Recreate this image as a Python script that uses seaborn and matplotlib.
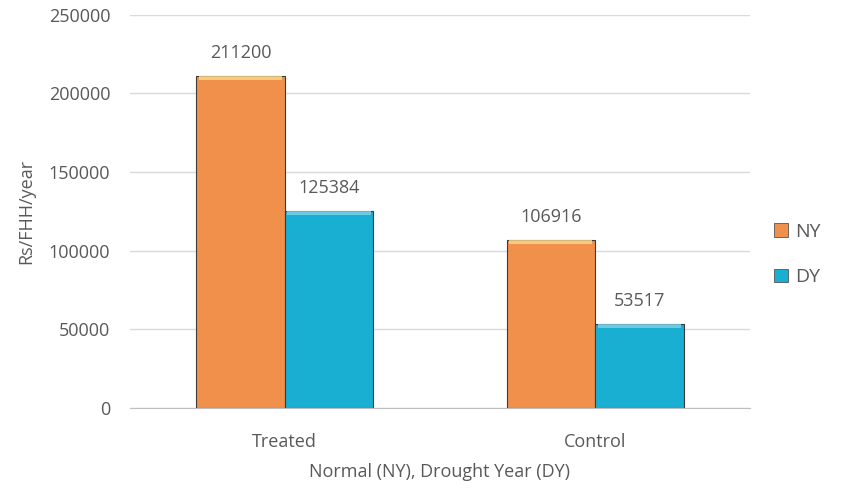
import pandas as pd
import matplotlib
matplotlib.use('Agg')
import matplotlib.pyplot as plt
import seaborn as sns

# Data
groups = ['Treated', 'Control']
seasons = ['NY', 'DY']
ny_values = [211200, 106916]
dy_values = [125384, 53517]

df = pd.DataFrame({
    'Group': groups * 2,
    'Season': ['NY'] * 2 + ['DY'] * 2,
    'Value': ny_values + dy_values,
})

sns.set_style('white')
plt.rcParams['font.family'] = ['Open Sans', 'DejaVu Sans']
text_col = '#595959'

fig = plt.figure(figsize=(8.42, 4.92), dpi=100)
ax = fig.add_axes([0.154, 0.171, 0.737, 0.799])

palette = {'NY': '#F0904A', 'DY': '#19AFD2'}
sns.barplot(data=df, x='Group', y='Value', hue='Season', hue_order=seasons,
            palette=palette, width=0.57, saturation=1, edgecolor='#3a3a3a',
            linewidth=0.8, ax=ax, legend=False)

# bevel highlight on top of each bar
for patch in ax.patches:
    x, w, h = patch.get_x(), patch.get_width(), patch.get_height()
    face = patch.get_facecolor()
    light = '#FCD98A' if face[0] > 0.8 else '#7FD3E8'
    ax.fill_between([x + w * 0.03, x + w * 0.97], h - 2500, h - 300,
                    color=light, alpha=0.8, zorder=3, linewidth=0)

for cont in ax.containers:
    ax.bar_label(cont, labels=[str(int(v)) for v in cont.datavalues],
                 padding=10, fontsize=13, color=text_col)

ax.set_ylim(0, 250000)
ax.set_yticks(range(0, 250001, 50000))
ax.set_xlim(-0.5, 1.5)
ax.yaxis.grid(True, color='#D9D9D9', linewidth=1)
ax.set_axisbelow(True)
for s in ['left', 'right', 'top']:
    ax.spines[s].set_visible(False)
ax.spines['bottom'].set_color('#BFBFBF')
ax.tick_params(axis='y', labelsize=13, colors=text_col, length=0, pad=14)
ax.tick_params(axis='x', labelsize=13, colors=text_col, length=0, pad=18)

ax.set_xlabel('Normal (NY), Drought Year (DY)', fontsize=13, color=text_col, labelpad=9)
ax.set_ylabel('Rs/FHH/year', fontsize=13, color=text_col, labelpad=10)

handles = [plt.Rectangle((0, 0), 1, 1, facecolor=palette[s], edgecolor='#555555', linewidth=0.6)
           for s in seasons]
leg = ax.legend(handles, seasons, loc='center left', bbox_to_anchor=(1.01, 0.39),
                frameon=False, fontsize=14, handlelength=0.7, handleheight=0.7,
                labelspacing=1.4, handletextpad=0.4)
for t in leg.get_texts():
    t.set_color(text_col)

fig.savefig('out.png', dpi=100)
